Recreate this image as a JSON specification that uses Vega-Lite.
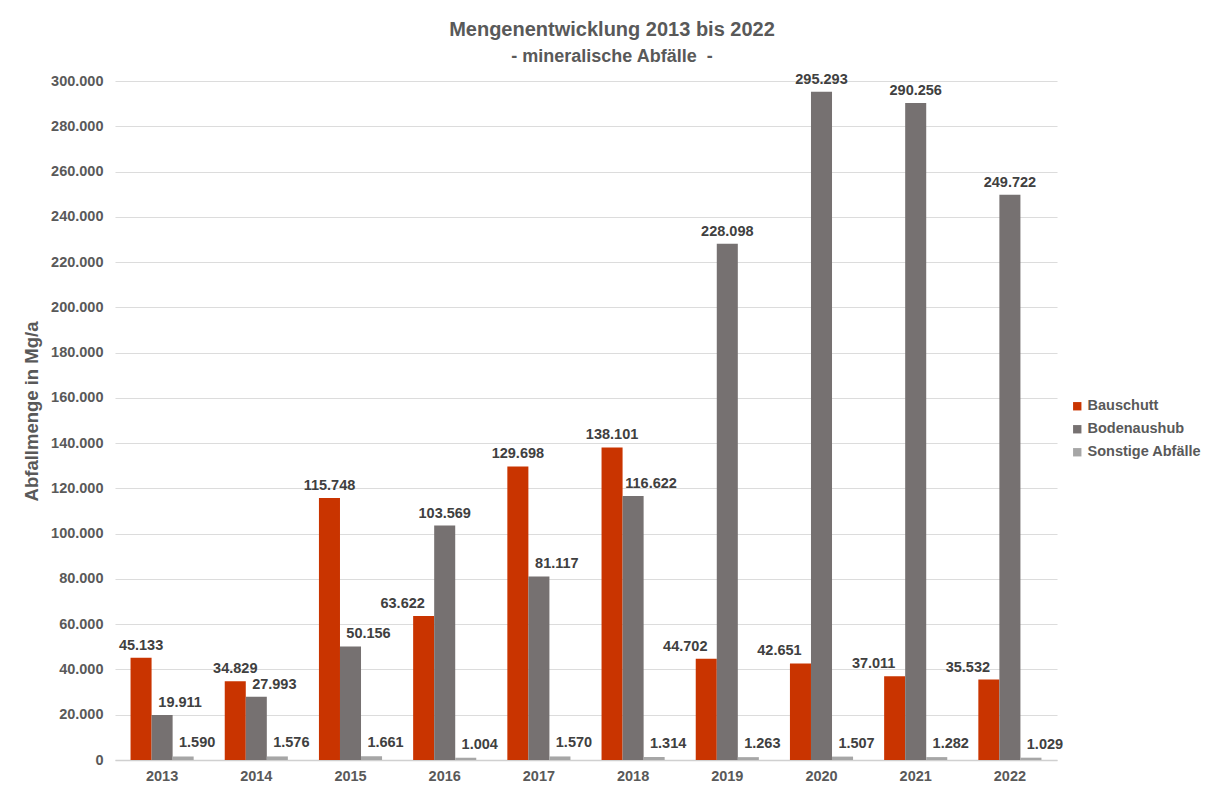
{
  "$schema": "https://vega.github.io/schema/vega-lite/v6.json",
  "autosize": "none",
  "width": 942,
  "height": 679,
  "padding": {"left": 115, "top": 81, "right": 157, "bottom": 27},
  "background": "white",
  "config": {
    "locale": {"number": {"decimal": ",", "thousands": ".", "grouping": [3], "currency": ["", " €"]}},
    "font": "Liberation Sans",
    "view": {"stroke": null}
  },
  "title": {
    "text": "Mengenentwicklung 2013 bis 2022",
    "subtitle": "- mineralische Abfälle \u00a0-",
    "anchor": "middle",
    "dx": 26,
    "offset": 6,
    "fontSize": 20,
    "fontWeight": "bold",
    "color": "#595959",
    "subtitleFontSize": 18,
    "subtitleFontWeight": "bold",
    "subtitleColor": "#595959",
    "subtitlePadding": 8,
    "font": "Liberation Sans",
    "subtitleFont": "Liberation Sans"
  },
  "data": {
    "values": [
      {"Jahr": "2013", "Art": "Bauschutt", "Menge": 45133},
      {"Jahr": "2013", "Art": "Bodenaushub", "Menge": 19911},
      {"Jahr": "2013", "Art": "Sonstige Abfälle", "Menge": 1590},
      {"Jahr": "2014", "Art": "Bauschutt", "Menge": 34829},
      {"Jahr": "2014", "Art": "Bodenaushub", "Menge": 27993},
      {"Jahr": "2014", "Art": "Sonstige Abfälle", "Menge": 1576},
      {"Jahr": "2015", "Art": "Bauschutt", "Menge": 115748},
      {"Jahr": "2015", "Art": "Bodenaushub", "Menge": 50156},
      {"Jahr": "2015", "Art": "Sonstige Abfälle", "Menge": 1661},
      {"Jahr": "2016", "Art": "Bauschutt", "Menge": 63622},
      {"Jahr": "2016", "Art": "Bodenaushub", "Menge": 103569},
      {"Jahr": "2016", "Art": "Sonstige Abfälle", "Menge": 1004},
      {"Jahr": "2017", "Art": "Bauschutt", "Menge": 129698},
      {"Jahr": "2017", "Art": "Bodenaushub", "Menge": 81117},
      {"Jahr": "2017", "Art": "Sonstige Abfälle", "Menge": 1570},
      {"Jahr": "2018", "Art": "Bauschutt", "Menge": 138101},
      {"Jahr": "2018", "Art": "Bodenaushub", "Menge": 116622},
      {"Jahr": "2018", "Art": "Sonstige Abfälle", "Menge": 1314},
      {"Jahr": "2019", "Art": "Bauschutt", "Menge": 44702},
      {"Jahr": "2019", "Art": "Bodenaushub", "Menge": 228098},
      {"Jahr": "2019", "Art": "Sonstige Abfälle", "Menge": 1263},
      {"Jahr": "2020", "Art": "Bauschutt", "Menge": 42651},
      {"Jahr": "2020", "Art": "Bodenaushub", "Menge": 295293},
      {"Jahr": "2020", "Art": "Sonstige Abfälle", "Menge": 1507},
      {"Jahr": "2021", "Art": "Bauschutt", "Menge": 37011},
      {"Jahr": "2021", "Art": "Bodenaushub", "Menge": 290256},
      {"Jahr": "2021", "Art": "Sonstige Abfälle", "Menge": 1282},
      {"Jahr": "2022", "Art": "Bauschutt", "Menge": 35532},
      {"Jahr": "2022", "Art": "Bodenaushub", "Menge": 249722},
      {"Jahr": "2022", "Art": "Sonstige Abfälle", "Menge": 1029}
    ]
  },
  "encoding": {
    "x": {
      "field": "Jahr",
      "type": "ordinal",
      "scale": {"paddingInner": 0.33, "paddingOuter": 0.165},
      "axis": {
        "title": null,
        "labelAngle": 0,
        "labelFontSize": 14.5,
        "labelFontWeight": "bold",
        "labelColor": "#595959",
        "labelPadding": 9,
        "tickSize": 0,
        "domainColor": "#d0d0d0",
        "domainWidth": 1.5
      }
    },
    "xOffset": {
      "field": "Art",
      "type": "nominal",
      "scale": {"domain": ["Bauschutt", "Bodenaushub", "Sonstige Abfälle"], "paddingInner": 0, "paddingOuter": 0}
    },
    "y": {
      "field": "Menge",
      "type": "quantitative",
      "scale": {"domain": [0, 300000], "nice": false},
      "axis": {
        "title": "Abfallmenge in Mg/a",
        "titleFontSize": 18.5,
        "titleFontWeight": "bold",
        "titleColor": "#595959",
        "titlePadding": 9,
        "titleY": 330,
        "values": [0, 20000, 40000, 60000, 80000, 100000, 120000, 140000, 160000, 180000, 200000, 220000, 240000, 260000, 280000, 300000],
        "format": ",d",
        "labelFontSize": 14.5,
        "labelFontWeight": "bold",
        "labelColor": "#595959",
        "labelPadding": 12,
        "tickSize": 0,
        "domain": false,
        "gridColor": "#dcdcdc",
        "gridWidth": 1.2
      }
    }
  },
  "layer": [
    {
      "mark": {"type": "bar"},
      "encoding": {
        "color": {
          "field": "Art",
          "type": "nominal",
          "scale": {"domain": ["Bauschutt", "Bodenaushub", "Sonstige Abfälle"], "range": ["#c93400", "#767171", "#a6a6a6"]},
          "legend": {
            "title": null,
            "orient": "none",
            "legendX": 955,
            "legendY": 318,
            "symbolType": "square",
            "symbolSize": 70,
            "symbolStrokeWidth": 0,
            "labelFontSize": 14.5,
            "labelFontWeight": "bold",
            "labelColor": "#595959",
            "labelOffset": 3,
            "rowPadding": 8,
            "labelLimit": 300
          }
        }
      }
    },
    {
      "transform": [{"filter": "(datum.Art === 'Bauschutt' && indexof(['2016','2019','2020','2021','2022'], datum.Jahr) < 0) || (datum.Art === 'Bodenaushub' && indexof(['2013','2014','2015','2017','2018'], datum.Jahr) < 0)"}],
      "mark": {"type": "text", "baseline": "alphabetic", "dy": -8, "fontSize": 14.5, "fontWeight": "bold", "color": "#404040"},
      "encoding": {
        "text": {"field": "Menge", "type": "quantitative", "format": ",d"}
      }
    },
    {
      "transform": [{"filter": "datum.Art === 'Bauschutt' && indexof(['2016','2019','2020','2021','2022'], datum.Jahr) >= 0"}],
      "mark": {"type": "text", "baseline": "alphabetic", "dy": -8, "dx": -21, "fontSize": 14.5, "fontWeight": "bold", "color": "#404040"},
      "encoding": {
        "text": {"field": "Menge", "type": "quantitative", "format": ",d"}
      }
    },
    {
      "transform": [{"filter": "datum.Art === 'Bodenaushub' && indexof(['2013','2014','2015','2017','2018'], datum.Jahr) >= 0"}],
      "mark": {"type": "text", "baseline": "alphabetic", "dy": -8, "dx": 18, "fontSize": 14.5, "fontWeight": "bold", "color": "#404040"},
      "encoding": {
        "text": {"field": "Menge", "type": "quantitative", "format": ",d"}
      }
    },
    {
      "transform": [{"filter": "datum.Art === 'Sonstige Abfälle'"}],
      "mark": {"type": "text", "baseline": "alphabetic", "dy": -9, "dx": 14, "fontSize": 14.5, "fontWeight": "bold", "color": "#404040"},
      "encoding": {
        "text": {"field": "Menge", "type": "quantitative", "format": ",d"}
      }
    }
  ]
}
